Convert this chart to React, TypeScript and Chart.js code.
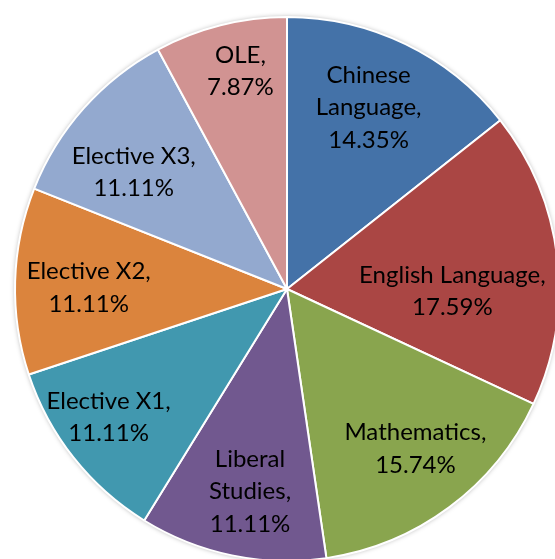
import React, { useEffect, useRef } from "react";
import { Chart, registerables } from "chart.js";

Chart.register(...registerables);

const categories = [
  "Chinese Language",
  "English Language",
  "Mathematics",
  "Liberal Studies",
  "Elective X1",
  "Elective X2",
  "Elective X3",
  "OLE",
];
const percentages = [14.35, 17.59, 15.74, 11.11, 11.11, 11.11, 11.11, 7.87];
const labelNameLines = [
  ["Chinese", "Language,"],
  ["English Language,"],
  ["Mathematics,"],
  ["Liberal", "Studies,"],
  ["Elective X1,"],
  ["Elective X2,"],
  ["Elective X3,"],
  ["OLE,"],
];
const colors = [
  "#4472A8",
  "#AA4644",
  "#89A54E",
  "#71588F",
  "#4198AF",
  "#DB843D",
  "#93A9CF",
  "#D19392",
];
// label placement: fraction of radius, angle shift (deg) from slice middle
const labelRadiusFrac = [0.731, 0.608, 0.754, 0.756, 0.808, 0.729, 0.708, 0.819];
const labelAngleShift = [-1.6, 7.4, -2.1, -1.3, 2.6, -1.3, -4.4, 2.1];

const FONT = "24px Lato, 'Open Sans', sans-serif";
const LINE_H = 32.5;

const shadowPlugin = {
  id: "pieShadow",
  beforeDatasetsDraw(chart: any) {
    const meta = chart.getDatasetMeta(0);
    const arc = meta.data[0];
    if (!arc) return;
    const { x, y, outerRadius } = arc.getProps(["x", "y", "outerRadius"], true);
    const ctx = chart.ctx;
    ctx.save();
    ctx.shadowColor = "rgba(0,0,0,0.35)";
    ctx.shadowBlur = 5;
    ctx.shadowOffsetX = 0;
    ctx.shadowOffsetY = 0;
    ctx.fillStyle = "#ffffff";
    ctx.beginPath();
    ctx.arc(x, y, outerRadius, 0, Math.PI * 2);
    ctx.fill();
    ctx.restore();
  },
};

const labelPlugin = {
  id: "sliceLabels",
  afterDatasetsDraw(chart: any) {
    const ctx = chart.ctx;
    const meta = chart.getDatasetMeta(0);
    const data = chart.data.datasets[0].data as number[];
    ctx.save();
    ctx.font = FONT;
    ctx.fillStyle = "#000000";
    ctx.textAlign = "center";
    ctx.textBaseline = "middle";
    meta.data.forEach((el: any, i: number) => {
      const { x, y, startAngle, endAngle, outerRadius } = el.getProps(
        ["x", "y", "startAngle", "endAngle", "outerRadius"],
        true
      );
      const mid = (startAngle + endAngle) / 2 + (labelAngleShift[i] * Math.PI) / 180;
      const r = outerRadius * labelRadiusFrac[i];
      const cx = x + Math.cos(mid) * r;
      const cy = y + Math.sin(mid) * r;
      const lines = [...labelNameLines[i], data[i].toFixed(2) + "%"];
      const top = cy - ((lines.length - 1) * LINE_H) / 2;
      lines.forEach((t, k) => ctx.fillText(t, cx, top + k * LINE_H));
    });
    ctx.restore();
  },
};

export default function App() {
  const ref = useRef<HTMLCanvasElement | null>(null);
  useEffect(() => {
    document.body.style.margin = "0";
    const chart = new Chart(ref.current as HTMLCanvasElement, {
      type: "pie",
      data: {
        labels: categories,
        datasets: [
          {
            data: percentages,
            backgroundColor: colors,
            borderColor: "#ffffff",
            borderWidth: 2,
          },
        ],
      },
      options: {
        responsive: false,
        animation: false,
        layout: { padding: 7 },
        plugins: {
          legend: { display: false },
          tooltip: { enabled: false },
        },
      },
      plugins: [shadowPlugin, labelPlugin],
    });
    return () => chart.destroy();
  }, []);
  return (
    <div
      style={{
        position: "fixed",
        left: 0,
        top: 0,
        width: 555,
        height: 559,
        overflow: "hidden",
        background: "#ffffff",
      }}
    >
      <canvas
        ref={ref}
        width={560}
        height={560}
        style={{ position: "absolute", left: 7, top: 9, width: 560, height: 560 }}
      />
    </div>
  );
}
